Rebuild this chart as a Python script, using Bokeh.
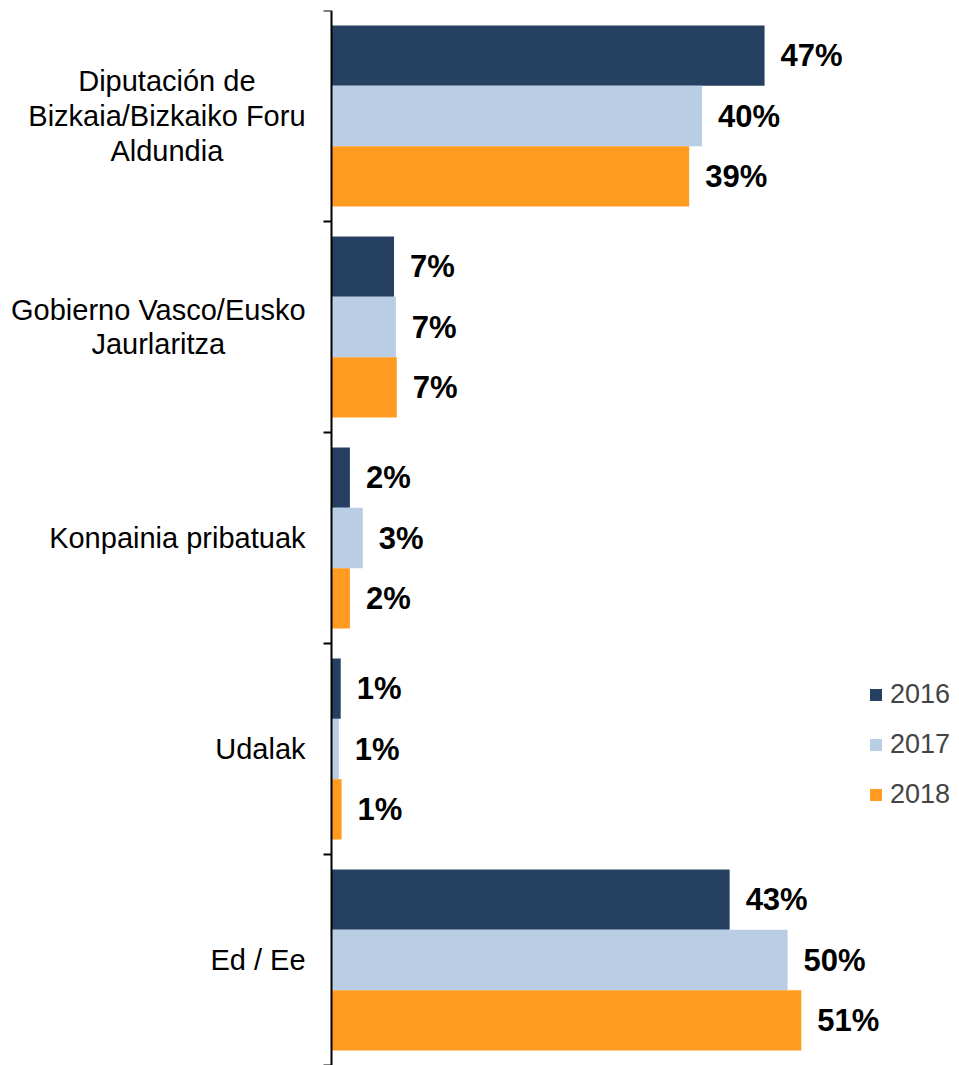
import math
from bokeh.plotting import figure
from bokeh.models import (ColumnDataSource, Range1d, Span, Legend, LegendItem, Label)
from bokeh.transform import dodge
from bokeh.core.properties import value
from bokeh.embed import file_html
from bokeh.resources import INLINE

categories = ["Diputación de\nBizkaia/Bizkaiko Foru\nAldundia",
              "Gobierno Vasco/Eusko\nJaurlaritza",
              "Konpainia pribatuak",
              "Udalak",
              "Ed / Ee"]
years = ["2016", "2017", "2018"]
v2016 = [47.1, 6.8, 2.0, 1.0, 43.3]
v2017 = [40.3, 7.0, 3.4, 0.8, 49.6]
v2018 = [38.9, 7.1, 2.0, 1.1, 51.1]
colors = ["#254061", "#B9CDE5", "#FF9B21"]

FONT = "Liberation Sans"

n = len(categories)
# category slot positions (first category at the top), derived from the list order
ypos = [n - i - 0.5 for i in range(n)]
bounds = [float(i) for i in range(n + 1)]

src = ColumnDataSource(dict(
    cat=categories, y=ypos,
    v2016=v2016, v2017=v2017, v2018=v2018,
    l2016=[f"{v:.0f}%" for v in v2016],
    l2017=[f"{v:.0f}%" for v in v2017],
    l2018=[f"{v:.0f}%" for v in v2018],
))

# the x range extends to the left of zero to leave room for the category labels
p = figure(width=959, height=1065, output_backend="svg", toolbar_location=None,
           y_range=Range1d(0, n), x_range=Range1d(-36.0, 68.3),
           x_axis_type=None, y_axis_type=None,
           min_border_left=0, min_border_right=0, min_border_top=10,
           min_border_bottom=0, outline_line_color=None)
p.grid.visible = False
p.background_fill_color = "white"

# value axis line at zero with tick marks at the category boundaries
p.add_layout(Span(location=0, dimension="height", line_color="black", line_width=2))
p.ray(x=0, y=bounds, length=8, length_units="screen", angle=math.pi,
      line_color="black", line_width=2)

# category labels: block right-aligned next to the axis, lines centred
for cat, y in zip(categories, ypos):
    p.add_layout(Label(x=0, y=y, x_offset=-26, text=cat,
                       anchor="center_right", text_align="center",
                       text_baseline="middle", text_line_height=1.09,
                       text_font=FONT, text_font_size="29px", text_color="black"))

h = 0.286
offsets = [h, 0.0, -h]
renderers = []
for yr, off, col in zip(years, offsets, colors):
    r = p.hbar(y=dodge("y", off), left=0, right="v" + yr,
               height=h, color=col, line_color=None, source=src)
    renderers.append(r)
    p.text(x="v" + yr, y=dodge("y", off), text="l" + yr,
           x_offset=16, text_baseline="middle", text_align="left",
           text_font=value(FONT), text_font_style="bold", text_font_size="31px",
           text_color="black", source=src)

legend = Legend(items=[LegendItem(label=yr, renderers=[r]) for yr, r in zip(years, renderers)],
                location=(868, 255), orientation="vertical",
                glyph_width=15, glyph_height=15, label_height=30, spacing=19,
                label_standoff=7, padding=0, margin=0,
                label_text_font=FONT, label_text_font_size="27px",
                border_line_color=None, background_fill_alpha=0)
p.add_layout(legend, "center")

open("out.html", "w").write(file_html(p, INLINE))
